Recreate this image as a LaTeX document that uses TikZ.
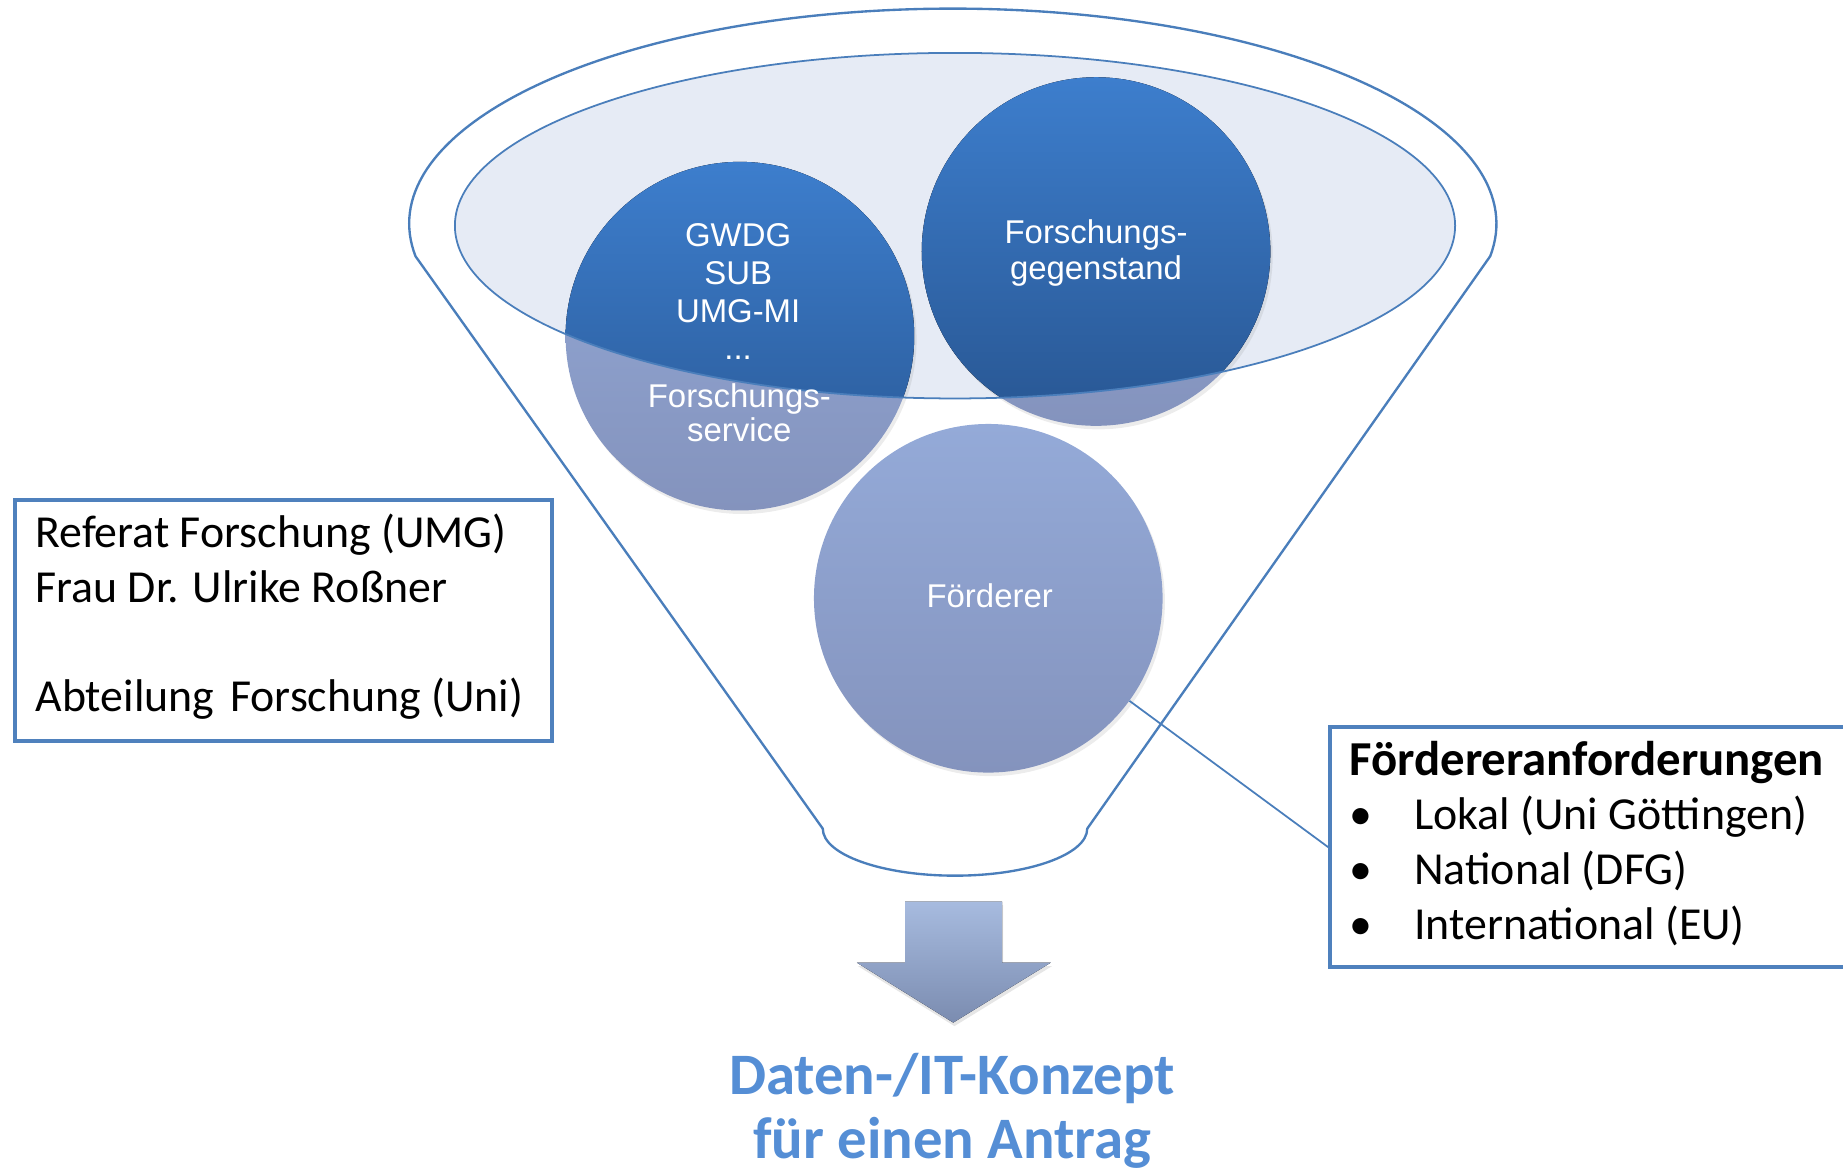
\documentclass[tikz,border=0pt]{standalone}
\usepackage{fontspec}
\setmainfont{Carlito}
\newfontfamily\arialfont{Liberation Sans}
\usetikzlibrary{shadows}
\definecolor{funnelblue}{RGB}{74,126,187}
\definecolor{boxblue}{RGB}{79,129,189}
\definecolor{rimfill}{RGB}{230,235,245}
\definecolor{deeptop}{RGB}{61,126,205}
\definecolor{deepbot}{RGB}{40,86,146}
\definecolor{paletop}{RGB}{148,170,216}
\definecolor{palebot}{RGB}{132,147,189}
\definecolor{arrowtop}{RGB}{167,187,223}
\definecolor{arrowbot}{RGB}{123,140,176}
\definecolor{titleblue}{RGB}{85,142,213}
\tikzset{
  funnel_/.style   = {draw=funnelblue, line width=2pt},
  box_/.style      = {shape=rectangle, draw=boxblue, line width=3.5pt, fill=white},
  disk_/.style     = {shape=circle, minimum size=296.6pt, top color=paletop, bottom color=palebot,
                      drop shadow={shadow xshift=2pt, shadow yshift=-3pt, opacity=0.15}},
  deep_/.style     = {top color=deeptop, bottom color=deepbot},
  disktext_/.style = {font=\arialfont\fontsize{28}{32}\selectfont, text=white, align=center, inner sep=0pt},
  boxtext_/.style  = {font=\fontsize{39}{46.5}\selectfont, align=left, inner sep=0pt}
}

\begin{document}
\begin{tikzpicture}
	[
	x = 1pt,
	y = -1pt
	]
	\path[use as bounding box, clip] (0,0) rectangle (1568,1000);

	% funnel outline
	\coordinate (rimL) at (353.5,218);
	\coordinate (spoutR) at (925,705);
	\draw[funnel_] (rimL) arc[start angle=188.7, end angle=-8.7, x radius=462.5pt, y radius=183pt]
		-- (spoutR) arc[start angle=0, end angle=-180, x radius=112.5pt, y radius=40pt] -- cycle;

	% rim of the funnel
	\fill[rimfill] (812.5,192) ellipse[x radius=425.5pt, y radius=147pt];

	% circles
	\node[disk_] (svc) at (629.5,286) {};
	\node[disk_] (subj) at (932.5,214) {};
	\node[disk_] (foerderer) at (840.8,509) {};
	\begin{scope}
		\clip (812.5,192) ellipse[x radius=425.5pt, y radius=147pt];
		\fill[deep_] (svc.center) circle[radius=148.3pt];
		\fill[deep_] (subj.center) circle[radius=148.3pt];
	\end{scope}
	\draw[funnelblue, line width=1.5pt] (812.5,192) ellipse[x radius=425.5pt, y radius=147pt];

	% circle texts (base = last line)
	\node[disktext_, anchor=base] (gwdg) at (628,306) {GWDG\\SUB\\UMG-MI\\...};
	\node[disktext_, anchor=base, font=\arialfont\fontsize{28}{29}\selectfont] (svctext) at (629,376) {Forschungs-\\service};
	\node[disktext_, anchor=base, font=\arialfont\fontsize{28}{31}\selectfont] (subjtext) at (932.5,238) {Forschungs-\\gegenstand};
	\node[disktext_, anchor=base] (foerdtext) at (842,516.5) {Förderer};

	% boxes
	\node[box_, anchor=north west, minimum width=457pt, minimum height=205pt] (contact) at (11,424) {};
	\node[boxtext_, anchor=base west] (contacttext) at (30,605.5)
		{Referat Forschung (UMG)\\Frau Dr. Ulrike Roßner\\[46.5pt]Abteilung\hspace{0.12em} Forschung (Uni)};
	\node[box_, anchor=north west, minimum width=470pt, minimum height=204pt] (req) at (1130,617) {};
	\node[boxtext_, anchor=base west] (reqtext) at (1148,799)
		{{\bfseries\fontsize{41.5}{46.5}\selectfont Fördereranforderungen}\\
		 \makebox[55pt][l]{\textbullet}Lokal (Uni Göttingen)\\
		 \makebox[55pt][l]{\textbullet}National (DFG)\\
		 \makebox[55pt][l]{\textbullet}International (EU)};
	\draw[funnelblue, line width=1.5pt] (foerderer.-36.4) -- (req.west);

	% arrow and result
	\fill[top color=arrowtop, bottom color=arrowbot,
		drop shadow={shadow xshift=1pt, shadow yshift=-3pt, opacity=0.2}]
		(770,767) -- (852.5,767) -- (852.5,819) -- (894,819) -- (811,870) -- (729,819) -- (770,819) -- cycle;
	\node[font=\bfseries\fontsize{50}{55}\selectfont, text=titleblue, align=center, inner sep=0pt, anchor=base]
		(concept) at (810,986) {Daten-/IT-Konzept\\für einen Antrag};
\end{tikzpicture}
\end{document}
